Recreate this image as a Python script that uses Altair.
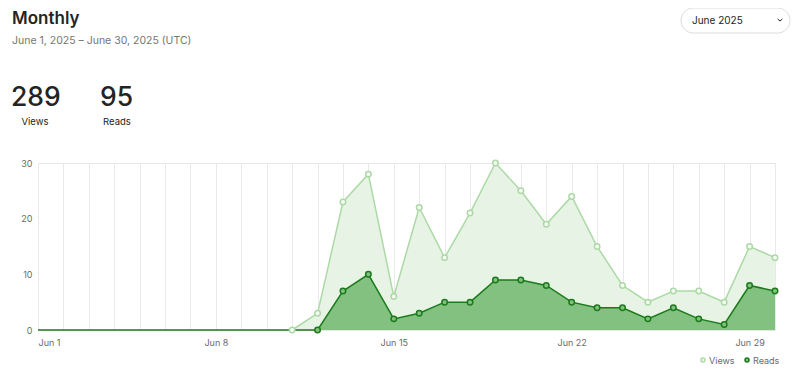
import altair as alt
import pandas as pd

days = list(range(1, 31))
views = [0, 0, 0, 0, 0, 0, 0, 0, 0, 0, 0, 3, 23, 28, 6, 22, 13, 21, 30, 25,
         19, 24, 15, 8, 5, 7, 7, 5, 15, 13]
reads = [0, 0, 0, 0, 0, 0, 0, 0, 0, 0, 0, 0, 7, 10, 2, 3, 5, 5, 9, 9,
         8, 5, 4, 4, 2, 4, 2, 1, 8, 7]
tick_days = [1, 8, 15, 22, 29]
y_ticks = [0, 10, 20, 30]

df = pd.DataFrame({"day": days, "views": views, "reads": reads})

FONT = "Inter"
V_LINE = "#acd9a6"
V_AREA = "#e7f4e5"
R_LINE = "#1b7a1b"
R_AREA = "#82c17f"

x = alt.X("day:Q", scale=alt.Scale(domain=[1, 30], nice=False, zero=False),
          axis=alt.Axis(values=days, grid=True, gridColor="#e9e9e9", domain=False,
                        ticks=False, labelFontSize=9, labelColor="#6b6b6b",
                        labelFont=FONT, labelPadding=8, title=None,
                        labelExpr="indexof([" + ",".join(str(d) for d in tick_days) +
                                  "], datum.value) >= 0 ? 'Jun ' + datum.value : ''"))
yv = alt.Y("views:Q", scale=alt.Scale(domain=[0, 30], nice=False),
           axis=alt.Axis(values=y_ticks, grid=False, domain=False, ticks=False,
                         labelFontSize=9, labelColor="#6b6b6b", labelFont=FONT,
                         labelPadding=6, title=None))
yr = alt.Y("reads:Q", scale=alt.Scale(domain=[0, 30], nice=False))

base = alt.Chart(df)
vdf = base.transform_filter("datum.day >= 11")

v_area = vdf.mark_area(color=V_AREA).encode(x=x, y=yv)
v_line = vdf.mark_line(color=V_LINE, strokeWidth=1.5).encode(x=x, y=yv)
r_area = base.mark_area(color=R_AREA).encode(x=x, y=yr)
r_line = base.mark_line(color=R_LINE, strokeWidth=1.5).encode(x=x, y=yr)
v_pts = vdf.mark_point(filled=True, fill="#f7fbf6", stroke=V_LINE, strokeWidth=1.5,
                       size=30, opacity=1).encode(x=x, y=yv)
r_pts = base.transform_filter("datum.day >= 12").mark_point(
    filled=True, fill=R_AREA, stroke=R_LINE, strokeWidth=1.5, size=30, opacity=1
).encode(x=x, y=yr)

# header texts
one = pd.DataFrame({"a": [0]})
def txt(s, x0, y0, size, color="#242424", weight="normal", align="left", baseline="alphabetic"):
    return alt.Chart(one).mark_text(text=s, font=FONT, fontSize=size, color=color,
                                    fontWeight=weight, align=align, baseline=baseline).encode(
        x=alt.value(x0), y=alt.value(y0))

title = txt("Monthly", -26, -139, 17, weight=600)
subtitle = txt("June 1, 2025 \u2013 June 30, 2025 (UTC)", -26, -119, 10.5, color="#757575")
total_views = txt(str(sum(views)), -27, -57, 26.5, weight=500)
views_lbl = txt("Views", -3, -38, 9.5, align="center")
total_reads = txt(str(sum(reads)), 62, -57, 26.5, weight=500)
reads_lbl = txt("Reads", 79, -38, 9.5, align="center")

dropdown = alt.Chart(one).mark_rect(fill="white", stroke="#dcdcdc", strokeWidth=1,
                                    cornerRadius=12.5).encode(
    x=alt.value(643), x2=alt.value(752), y=alt.value(-155), y2=alt.value(-130))
dd_text = txt("June 2025", 654, -139, 10)
chevron = alt.Chart(one).mark_point(shape="M-1,-0.45L0,0.45L1,-0.45", filled=False,
                                    stroke="#242424", strokeWidth=1, size=22, opacity=1).encode(
    x=alt.value(742), y=alt.value(-143))

leg_v_pt = alt.Chart(one).mark_point(filled=True, fill="#f7fbf6", stroke=V_LINE, strokeWidth=1.5,
                                     size=16, opacity=1).encode(x=alt.value(665), y=alt.value(197))
leg_v_tx = txt("Views", 671, 197.5, 9, color="#6b6b6b", baseline="middle")
leg_r_pt = alt.Chart(one).mark_point(filled=True, fill=R_AREA, stroke=R_LINE, strokeWidth=1.5,
                                     size=16, opacity=1).encode(x=alt.value(709), y=alt.value(197))
leg_r_tx = txt("Reads", 715, 197.5, 9, color="#6b6b6b", baseline="middle")

chart = alt.layer(
    v_area, v_line, r_area, r_line, v_pts, r_pts,
    title, subtitle, total_views, views_lbl, total_reads, reads_lbl,
    dropdown, dd_text, chevron, leg_v_pt, leg_v_tx, leg_r_pt, leg_r_tx
).properties(
    width=737, height=167,
    padding={"left": 30, "top": 155, "right": 17, "bottom": 37},
    autosize=alt.AutoSizeParams(type="none"),
    background="white",
).configure_view(stroke="#e6e6e6", strokeWidth=1)

chart.save("out.html", embed_options={"renderer": "svg", "actions": False})
